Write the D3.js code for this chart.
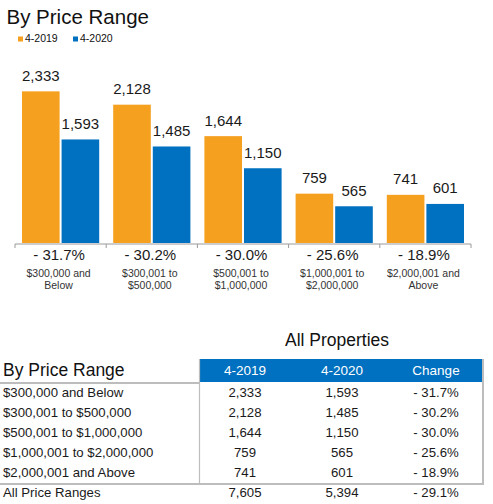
<!DOCTYPE html>
<html>
<head>
<meta charset="utf-8">
<script src="https://cdn.jsdelivr.net/npm/d3@7"></script>
<style>
  html, body { margin: 0; padding: 0; background: #fff; }
  svg { display: block; font-family: "Liberation Sans", Arial, Helvetica, sans-serif; }
</style>
</head>
<body>
<svg id="chart" width="493" height="504"></svg>
<script>
// ---- Data ----
const categories = ["$300,000 and Below", "$300,001 to $500,000", "$500,001 to $1,000,000", "$1,000,001 to $2,000,000", "$2,000,001 and Above"];
const axisLabelLines = [["$300,000 and", "Below"], ["$300,001 to", "$500,000"], ["$500,001 to", "$1,000,000"], ["$1,000,001 to", "$2,000,000"], ["$2,000,001 and", "Above"]];
const seriesNames = ["4-2019", "4-2020"];
const values2019 = [2333, 2128, 1644, 759, 741];
const values2020 = [1593, 1485, 1150, 565, 601];
const changes = [-31.7, -30.2, -30.0, -25.6, -18.9];
const totalLabel = "All Price Ranges";
const total2019 = 7605;
const total2020 = 5394;
const totalChange = -29.1;
const tableColumns = ["4-2019", "4-2020", "Change"];

const colors = { "4-2019": "#f5a01f", "4-2020": "#0070c0" };
const fmt = d3.format(",");
const fmtPct = v => "- " + Math.abs(v).toFixed(1) + "%";

const svg = d3.select("#chart");

// ---- Title & legend ----
svg.append("text").attr("x", 6.5).attr("y", 24).attr("font-size", 20.5).attr("fill", "#111").text("By Price Range");
const legend = svg.append("g");
seriesNames.forEach((s, i) => {
  const gx = 18 + i * 55;
  legend.append("rect").attr("x", gx).attr("y", 36.5).attr("width", 5).attr("height", 5).attr("fill", colors[s]);
  legend.append("text").attr("x", gx + 7).attr("y", 41.5).attr("font-size", 10.5).attr("fill", "#111").text(s);
});

// ---- Bar chart ----
const x0 = d3.scaleBand().domain(categories).range([15, 471]).paddingInner(0).paddingOuter(0);
const x1 = d3.scaleBand().domain(seriesNames).range([7, x0.bandwidth() - 7]).paddingInner(0.05);
const y = d3.scaleLinear().domain([0, 2500]).range([243, 243 - 2500 * 0.065]);

const rows = categories.map((c, i) => ({ cat: c, lines: axisLabelLines[i], vals: [values2019[i], values2020[i]], change: changes[i] }));

const groups = svg.append("g").selectAll("g").data(rows).join("g")
  .attr("transform", d => `translate(${x0(d.cat)},0)`);

groups.selectAll("rect").data(d => d.vals.map((v, j) => ({ s: seriesNames[j], v })))
  .join("rect")
  .attr("x", d => x1(d.s)).attr("width", x1.bandwidth())
  .attr("y", d => y(d.v)).attr("height", d => y(0) - y(d.v))
  .attr("fill", d => colors[d.s]);

groups.selectAll("text.val").data(d => d.vals.map((v, j) => ({ s: seriesNames[j], v })))
  .join("text").attr("class", "val")
  .attr("x", d => x1(d.s) + x1.bandwidth() / 2)
  .attr("y", d => y(d.v) - 10.5)
  .attr("text-anchor", "middle").attr("font-size", 15).attr("fill", "#1a1a1a")
  .text(d => fmt(d.v));

// axis line + ticks at band boundaries
const axisY = 244;
const boundaries = categories.map(c => x0(c)).concat([x0.range()[1]]);
svg.append("line").attr("x1", x0.range()[0]).attr("x2", x0.range()[1]).attr("y1", axisY).attr("y2", axisY)
  .attr("stroke", "#9a9a9a").attr("stroke-width", 1);
svg.append("g").selectAll("line").data(boundaries).join("line")
  .attr("x1", d => d).attr("x2", d => d).attr("y1", axisY).attr("y2", axisY + 4)
  .attr("stroke", "#9a9a9a").attr("stroke-width", 1);

groups.append("text")
  .attr("x", x0.bandwidth() / 2 - 1.5).attr("y", 260)
  .attr("text-anchor", "middle").attr("font-size", 15).attr("fill", "#1a1a1a")
  .text(d => fmtPct(d.change));

groups.each(function (d) {
  const g = d3.select(this);
  d.lines.forEach((ln, k) => {
    g.append("text").attr("x", x0.bandwidth() / 2 - 2).attr("y", 276.5 + k * 12.5)
      .attr("text-anchor", "middle").attr("font-size", 10.5).attr("fill", "#333").text(ln);
  });
});

// ---- Table ----
const tbl = svg.append("g");
const colX = [199.5, 294, 390, 483];
const colCenters = [245, 342, 436];
const headTop = 359, headBot = 382;
const rowBase = 396.5, rowStep = 20;
const bottomLine = 484;

tbl.append("text").attr("x", 337).attr("y", 346).attr("text-anchor", "middle").attr("font-size", 17.5).attr("fill", "#111").text("All Properties");

tbl.append("rect").attr("x", colX[0]).attr("y", headTop).attr("width", colX[3] - colX[0]).attr("height", headBot - headTop).attr("fill", "#0070c0");
tbl.append("text").attr("x", 3).attr("y", 376).attr("font-size", 17.5).attr("fill", "#111").text("By Price Range");
tbl.selectAll("text.hdr").data(tableColumns).join("text").attr("class", "hdr")
  .attr("x", (d, i) => colCenters[i]).attr("y", 375)
  .attr("text-anchor", "middle").attr("font-size", 13.5).attr("fill", "#fff").text(d => d);

// borders
const lineColor = "#bdbdbd";
tbl.append("line").attr("x1", 0).attr("x2", colX[0]).attr("y1", 383).attr("y2", 383).attr("stroke", lineColor).attr("stroke-width", 2);
tbl.append("line").attr("x1", colX[0]).attr("x2", colX[0]).attr("y1", headTop).attr("y2", bottomLine).attr("stroke", lineColor).attr("stroke-width", 1.2);
tbl.append("line").attr("x1", colX[3]).attr("x2", colX[3]).attr("y1", headTop).attr("y2", bottomLine).attr("stroke", lineColor).attr("stroke-width", 2);
tbl.append("line").attr("x1", 0).attr("x2", colX[3] + 1).attr("y1", bottomLine).attr("y2", bottomLine).attr("stroke", lineColor).attr("stroke-width", 2);

const tableRows = rows.map(d => [d.cat, fmt(d.vals[0]), fmt(d.vals[1]), fmtPct(d.change).replace("- ", "- ")]);
tableRows.push([totalLabel, fmt(total2019), fmt(total2020), fmtPct(totalChange)]);

tableRows.forEach((r, i) => {
  const yb = i < 5 ? rowBase + i * rowStep : 497;
  tbl.append("text").attr("x", 3).attr("y", yb).attr("font-size", 13.2).attr("fill", "#1a1a1a").text(r[0]);
  r.slice(1).forEach((c, j) => {
    tbl.append("text").attr("x", colCenters[j]).attr("y", yb).attr("text-anchor", "middle")
      .attr("font-size", 13.2).attr("fill", "#1a1a1a").text(c);
  });
});
</script>
</body>
</html>
